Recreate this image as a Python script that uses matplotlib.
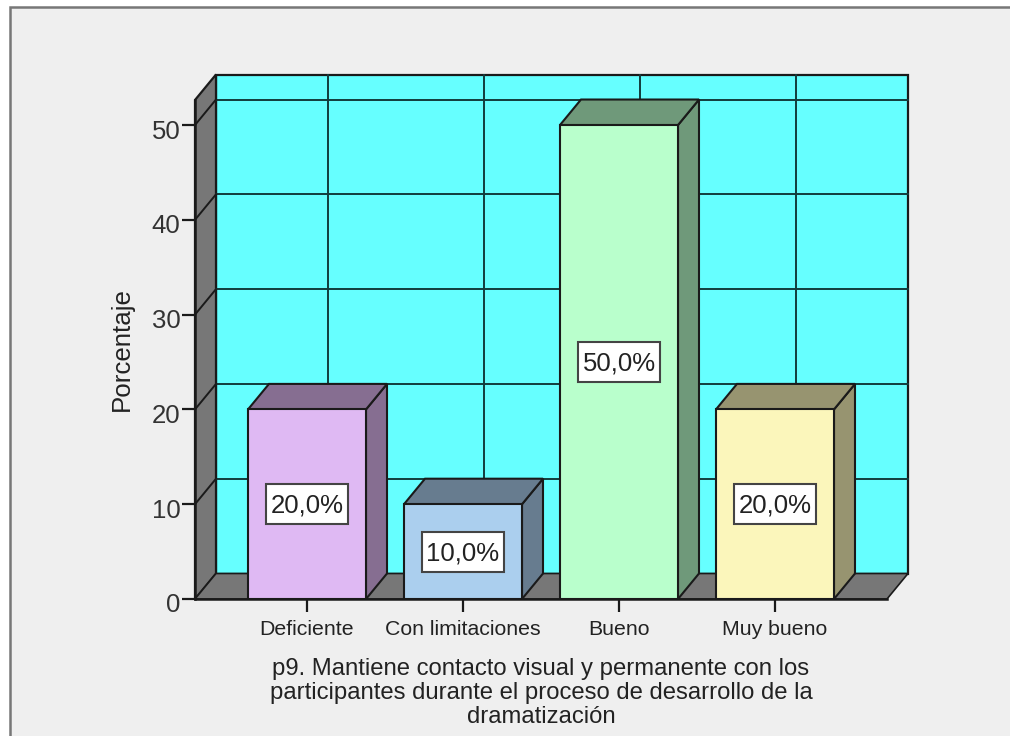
import matplotlib
matplotlib.use('Agg')
import matplotlib.pyplot as plt
from matplotlib.patches import Rectangle
from matplotlib.transforms import ScaledTranslation

plt.rcParams['font.family'] = ['Liberation Sans', 'DejaVu Sans']

categorias = ['Deficiente', 'Con limitaciones', 'Bueno', 'Muy bueno']
porcentajes = [20.0, 10.0, 50.0, 20.0]
etiquetas = ['20,0%', '10,0%', '50,0%', '20,0%']
y_ticks = [0, 10, 20, 30, 40, 50]
colores_frente = ['#dfb9f3', '#abcfee', '#b9ffcc', '#fbf6bb']
colores_lado = ['#866e91', '#677c8f', '#6f997a', '#979470']
titulo_x = ('p9. Mantiene contacto visual y permanente con los\n'
            'participantes durante el proceso de desarrollo de la\n'
            'dramatización')

W, H = 1010, 736
borde = '#1a1a1a'
# profundidad del efecto 3D, en unidades de los ejes
dx = 21 / 156
dy = 25.5 / 9.48
y_max = 52.64

fig = plt.figure(figsize=(W / 100, H / 100), dpi=100, facecolor='white')
fig.patches.append(Rectangle((10 / W, -0.1), 1.1, 1.1 - 7 / H, transform=fig.transFigure,
                             facecolor='#efefef', edgecolor='#777777', linewidth=1.8, zorder=-5))

ax = fig.add_axes([195 / W, (H - 599) / H, (887 - 195) / W, (599 - 100) / H])
ax.patch.set_visible(False)
ax.set_xlim(-0.718, 3.718)
ax.set_ylim(0, y_max)

x0, x1 = ax.get_xlim()

# pared del fondo, piso y pared lateral
ax.fill([x0 + dx, x1 + dx, x1 + dx, x0 + dx], [dy, dy, y_max + dy, y_max + dy],
        facecolor='#66ffff', edgecolor=borde, lw=1.6, clip_on=False, zorder=1)
ax.fill([x0, x0 + dx, x0 + dx, x0], [0, dy, y_max + dy, y_max],
        facecolor='#777777', edgecolor=borde, lw=1.6, clip_on=False, zorder=1)
ax.fill([x0, x1, x1 + dx, x0 + dx], [0, 0, dy, dy],
        facecolor='#777777', edgecolor=borde, lw=1.2, clip_on=False, zorder=1)

# rejilla
for v in y_ticks[1:]:
    ax.plot([x0 + dx, x1 + dx], [v + dy, v + dy], color='#123c3c', lw=1.4, clip_on=False, zorder=2)
    ax.plot([x0, x0 + dx], [v, v + dy], color=borde, lw=1.4, clip_on=False, zorder=2)
for i in range(len(categorias)):
    ax.plot([i + dx, i + dx], [dy, y_max + dy], color='#123c3c', lw=1.4, clip_on=False, zorder=2)

# barras
ancho = 118 / 156
for i, v in enumerate(porcentajes):
    iz, de = i - ancho / 2, i + ancho / 2
    ax.fill([de, de + dx, de + dx, de], [0, dy, v + dy, v],
            facecolor=colores_lado[i], edgecolor=borde, lw=1.5, clip_on=False, zorder=3)
    ax.fill([iz, de, de + dx, iz + dx], [v, v, v + dy, v + dy],
            facecolor=colores_lado[i], edgecolor=borde, lw=1.5, clip_on=False, zorder=3)
ax.bar(range(len(categorias)), porcentajes, width=ancho, color=colores_frente,
       edgecolor=borde, linewidth=1.5, zorder=4)

# etiquetas de valor con su caja blanca
caja_w = 82 / 156
caja_h = 40 / 9.48
for i, v in enumerate(porcentajes):
    ax.add_patch(Rectangle((i - caja_w / 2, v / 2 - caja_h / 2), caja_w, caja_h, facecolor='white',
                           edgecolor='#444444', linewidth=1.5, zorder=5))
    ax.text(i, v / 2 - 0.15, etiquetas[i], ha='center', va='center', fontsize=18.5,
            color='#222222', zorder=6)

# ejes
ax.spines['top'].set_visible(False)
ax.spines['right'].set_visible(False)
ax.spines['left'].set_linewidth(1.8)
ax.spines['bottom'].set_linewidth(1.8)
ax.spines['left'].set_color(borde)
ax.spines['bottom'].set_color(borde)
for s in ax.spines.values():
    s.set_zorder(7)

ax.set_yticks(y_ticks)
ax.set_xticks(range(len(categorias)))
ax.set_xticklabels(categorias, fontsize=15.3, color='#222222')
ax.tick_params(axis='y', labelsize=18.5, labelcolor='#333333', length=9.5, width=1.6, color=borde, pad=1)
ax.tick_params(axis='x', length=9, width=1.6, color=borde, pad=6)

# los numeros del eje y van un poco por debajo de su marca
baja = ScaledTranslation(0, -4 / 100, fig.dpi_scale_trans)
for lab in ax.get_yticklabels():
    lab.set_transform(lab.get_transform() + baja)

fig.text(122 / W, 1 - 349 / H, 'Porcentaje', rotation=90, ha='center', va='center',
         fontsize=18.6, color='#222222')
fig.text(541 / W, 1 - 693 / H, titulo_x, ha='center', va='center', fontsize=17.2,
         color='#222222', linespacing=1.1)

fig.savefig('out.png', dpi=100, facecolor=fig.get_facecolor())
